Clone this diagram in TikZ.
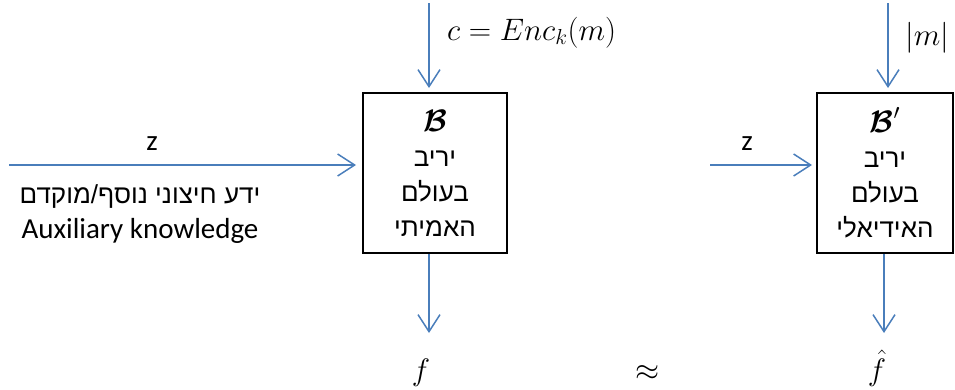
\RequirePackage{fix-cm}
\documentclass[tikz,border=0pt]{standalone}
\usepackage{amsmath,amssymb}
\usepackage{fontspec}
\setmainfont{Carlito}
\newfontfamily\hebfont[Script=Hebrew]{Liberation Sans}
\TeXXeTstate=1
\usetikzlibrary{arrows.meta}
\definecolor{arrowblue}{HTML}{4A7EBB}
\newcommand{\hebline}[1]{{\hebfont\fontsize{26}{35}\selectfont\beginR #1\endR}}
\newcommand{\bigmath}[1]{{\fontsize{31}{35}\selectfont$#1$}}
\begin{document}
\begin{tikzpicture}[x=1pt,y=-1pt,
  flow/.style={draw=arrowblue, line width=1.5pt, shorten >=4pt,
    -{Straight Barb[length=17pt,width=22pt,line width=1.5pt]}},
  box/.style={draw=black, line width=2pt, inner sep=0pt, align=center,
    minimum height=160pt, font=\fontsize{28}{35}\selectfont},
  lbl/.style={inner sep=0pt, font=\fontsize{29}{35}\selectfont},
  mlbl/.style={inner sep=0pt, font=\fontsize{31}{35}\selectfont},
  heb/.style={inner sep=0pt, font=\fontsize{26}{35}\hebfont}]
\useasboundingbox (0,0) rectangle (955,389);

% boxes
\node[box, minimum width=144pt] (B) at (435,173)
  {\bigmath{\boldsymbol{\mathcal{B}}}\\\hebline{יריב}\\\hebline{בעולם}\\\hebline{האמיתי}};
\node[box, minimum width=136pt] (Bp) at (885,173)
  {\bigmath{\boldsymbol{\mathcal{B}}'}\\\hebline{יריב}\\\hebline{בעולם}\\\hebline{האידיאלי}};

% arrow end points
\coordinate (Bin) at (429,3);
\coordinate (Bout) at (429,333);
\coordinate (Bpin) at (888,3);
\coordinate (Bpout) at (884,333);
\coordinate (zl) at (9,165);
\coordinate (zr) at (710,165);

% arrows
\draw[flow] (Bin) -- (Bin |- B.north);
\draw[flow, shorten >=0pt] (Bout |- B.south) -- (Bout);
\draw[flow] (Bpin) -- (Bpin |- Bp.north);
\draw[flow, shorten >=0pt] (Bpout |- Bp.south) -- (Bpout);
\draw[flow, shorten >=6pt] (zl) -- (zl -| B.west);
\draw[flow] (zr) -- (zr -| Bp.west);

% labels
\node[mlbl, anchor=base west] (enc) at (447,40) {$c = Enc_k(m)$};
\node[mlbl, anchor=base west] (msz) at (905,45) {$|m|$};
\node[lbl, anchor=base] (zla) at (152,150) {z};
\node[lbl, anchor=base] (zra) at (747,150) {z};
\node[heb, anchor=base] (aux1) at (140,203) {\beginR ידע חיצוני נוסף/מוקדם\endR};
\node[lbl, anchor=base] (aux2) at (140,238) {Auxiliary knowledge};
\node[mlbl, anchor=base] (f) at (421,380) {$f$};
\node[mlbl] (approx) at (648,373) {$\approx$};
\node[mlbl, anchor=base] (fh) at (877,380) {$\hat{f}$};
\end{tikzpicture}
\end{document}
